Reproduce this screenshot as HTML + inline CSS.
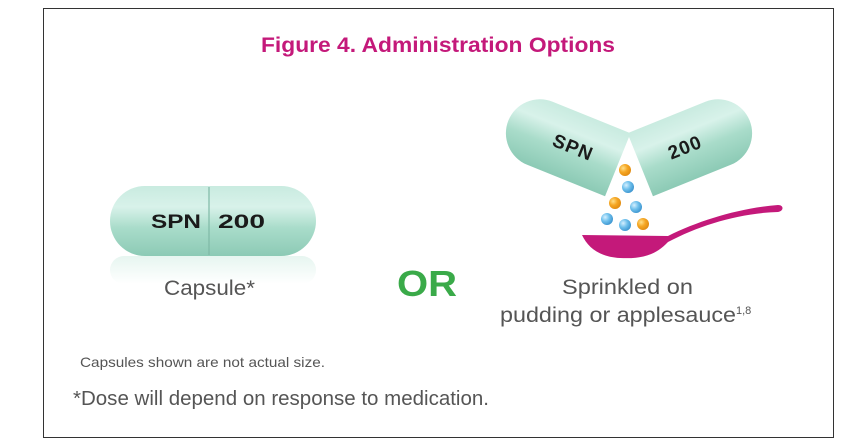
<!DOCTYPE html>
<html><head><meta charset="utf-8"><style>
html,body{margin:0;padding:0;background:#fff;}
svg{display:block;}
</style></head><body>
<svg width="856" height="445" viewBox="0 0 856 445" xmlns="http://www.w3.org/2000/svg" font-family="Liberation Sans, sans-serif">
<defs>
<linearGradient id="cap" x1="0" y1="0" x2="0" y2="1">
<stop offset="0" stop-color="#c9ebe0"/><stop offset="0.3" stop-color="#d8f2ea"/><stop offset="0.6" stop-color="#a9dcca"/><stop offset="1" stop-color="#8ccab5"/>
</linearGradient>
<linearGradient id="refl" x1="0" y1="0" x2="0" y2="1">
<stop offset="0" stop-color="#d6efe6"/><stop offset="1" stop-color="#fff"/>
</linearGradient>
<radialGradient id="blue" cx="0.35" cy="0.35" r="0.7"><stop offset="0" stop-color="#d6f0ff"/><stop offset="0.5" stop-color="#6fc0ec"/><stop offset="1" stop-color="#3c94cf"/></radialGradient>
<radialGradient id="orange" cx="0.35" cy="0.35" r="0.7"><stop offset="0" stop-color="#ffe08a"/><stop offset="0.5" stop-color="#f5a623"/><stop offset="1" stop-color="#e08a10"/></radialGradient>
</defs>
<rect x="43.5" y="8.5" width="790" height="429" fill="#fff" stroke="#333" stroke-width="1"/>
<text x="438" y="52" text-anchor="middle" font-size="21" font-weight="bold" fill="#c4197a" textLength="354" lengthAdjust="spacingAndGlyphs">Figure 4. Administration Options</text>

<!-- capsule -->
<rect x="110" y="256" width="206" height="28" rx="14" fill="url(#refl)" opacity="0.6"/>
<rect x="110" y="186" width="206" height="70" rx="35" fill="url(#cap)"/>
<line x1="209" y1="187" x2="209" y2="255" stroke="#7fb9a6" stroke-width="1.2"/>
<text x="151" y="228" font-size="19" font-weight="bold" fill="#1a1a1a" textLength="50" lengthAdjust="spacingAndGlyphs">SPN</text>
<text x="218" y="228" font-size="19" font-weight="bold" fill="#1a1a1a" textLength="47" lengthAdjust="spacingAndGlyphs">200</text>
<text x="164" y="295" font-size="21" fill="#555" textLength="91" lengthAdjust="spacingAndGlyphs">Capsule*</text>

<text x="427" y="296" text-anchor="middle" font-size="36" font-weight="bold" fill="#3aaa49" textLength="60" lengthAdjust="spacingAndGlyphs">OR</text>

<!-- open capsule halves -->
<g transform="translate(564,143) rotate(22)">
<path d="M58,-34 L-26,-34 A34,34 0 0 0 -26,34 L58,34 Z" fill="url(#cap)"/>
<text x="10" y="7" text-anchor="middle" font-size="19" font-weight="bold" fill="#1a1a1a" letter-spacing="1">SPN</text>
</g>
<g transform="translate(694,143) rotate(-22)">
<path d="M-58,-34 L26,-34 A34,34 0 0 1 26,34 L-58,34 Z" fill="url(#cap)"/>
<text x="-10" y="7" text-anchor="middle" font-size="19" font-weight="bold" fill="#1a1a1a" letter-spacing="1">200</text>
</g>

<!-- beads -->
<circle cx="625" cy="170" r="6" fill="url(#orange)"/>
<circle cx="628" cy="187" r="6" fill="url(#blue)"/>
<circle cx="615" cy="203" r="6" fill="url(#orange)"/>
<circle cx="636" cy="207" r="6" fill="url(#blue)"/>
<circle cx="607" cy="219" r="6" fill="url(#blue)"/>
<circle cx="625" cy="225" r="6" fill="url(#blue)"/>
<circle cx="643" cy="224" r="6" fill="url(#orange)"/>

<!-- spoon -->
<path d="M582,235 L668,236 C700,220 740,208 778,205 C784,205 784,211 778,212 C740,213 700,225 668,242 C655,256 640,259 620,258 C600,257 588,248 582,235 Z" fill="#c4197a"/>

<text x="562" y="294" font-size="21" fill="#555" textLength="131" lengthAdjust="spacingAndGlyphs">Sprinkled on</text>
<text x="500" y="322" font-size="21" fill="#555"><tspan textLength="236" lengthAdjust="spacingAndGlyphs">pudding or applesauce</tspan><tspan font-size="11" dy="-8">1,8</tspan></text>

<text x="80" y="367" font-size="14" fill="#555" textLength="245" lengthAdjust="spacingAndGlyphs">Capsules shown are not actual size.</text>
<text x="73" y="405" font-size="20" fill="#555" textLength="416" lengthAdjust="spacingAndGlyphs">*Dose will depend on response to medication.</text>
</svg>
</body></html>
